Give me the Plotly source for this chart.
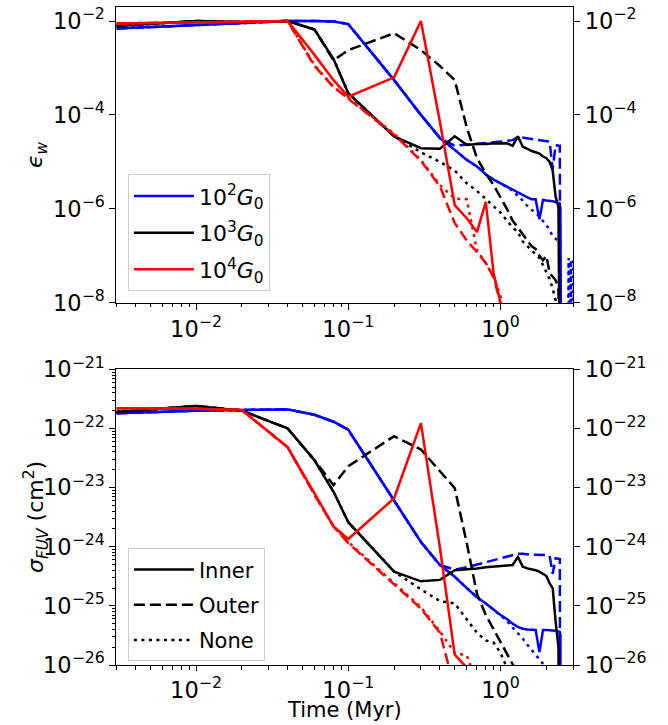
import plotly.graph_objects as go

# ---------------- data ----------------
T_BASE = [0.003, 0.01, 0.02, 0.04, 0.06, 0.08, 0.1, 0.2, 0.3, 0.4, 0.5, 0.6, 0.7, 0.8, 0.9,
          1.0, 1.1, 1.2, 1.3, 1.4, 1.5, 1.6, 1.7, 1.8, 1.9, 2.0, 2.1, 2.2, 2.3, 2.4]

# epsilon_w (top panel)
eps_blue_inner = [6.9e-3, 8.2e-3, 9.3e-3, 1.0e-2, 1.0e-2, 9.8e-3, 8.6e-3, 5.5e-4, 1.0e-4, 3.2e-5,
                  1.8e-5, 1.1e-5, 8.0e-6, 5.4e-6, 4.2e-6, 3.5e-6, 2.95e-6, 2.5e-6, 2.15e-6, 1.9e-6,
                  1.75e-6, 1.6e-6, 1.6e-6, 6.0e-7, 1.55e-6, 1.5e-6, 1.5e-6, 1.45e-6, 1.4e-6, 1.35e-6]
eps_blue_inner_tail_t = [2.45, 2.46, 2.47, 2.48, 2.49, 2.5]
eps_blue_inner_tail = [1.3e-6, 3e-9, 1.1e-6, 3e-9, 9e-7, 1e-10]

eps_blue_outer = [6.9e-3, 8.2e-3, 9.3e-3, 1.0e-2, 1.0e-2, 9.8e-3, 8.6e-3, 5.5e-4, 1.0e-4, 3.2e-5,
                  2.2e-5, 2.3e-5, 2.4e-5, 2.5e-5, 2.6e-5, 2.7e-5, 2.8e-5, 2.9e-5, 3.4e-5, 3.3e-5,
                  3.2e-5, 3.1e-5, 3.0e-5, 2.9e-5, 2.9e-5, 2.8e-5, 2.7e-5, 7.0e-6, 2.3e-5, 2.2e-5]
eps_blue_outer_tail_t = [2.45, 2.47]
eps_blue_outer_tail = [2.2e-5, 1e-10]

eps_blue_none = [6.9e-3, 8.2e-3, 9.3e-3, 1.0e-2, 1.0e-2, 9.8e-3, 8.6e-3, 5.5e-4, 1.0e-4, 3.2e-5,
                 1.8e-5, 1.1e-5, 8.0e-6, 5.4e-6, 4.2e-6, 3.5e-6, 2.9e-6, 2.4e-6, 1.9e-6, 1.5e-6,
                 1.15e-6, 9.5e-7, 8.0e-7, 6.8e-7, 5.5e-7, 4.5e-7, 3.5e-7, 2.6e-7, 2.3e-7, 2.1e-7]
eps_blue_none_tail_t = [2.45, 2.5, 2.75, 2.8, 2.85, 2.9, 2.95, 3.0]
eps_blue_none_tail = [2.0e-7, 1e-11, 1e-11, 9e-8, 1e-11, 8e-8, 1e-11, 9e-8]

eps_black_inner = [7.8e-3, 1.0e-2, 9.5e-3, 1.0e-2, 6.6e-3, 1.55e-3, 2.9e-4, 3.5e-5, 1.95e-5, 1.9e-5,
                   3.5e-5, 2.3e-5, 2.4e-5, 2.4e-5, 2.5e-5, 2.45e-5, 2.5e-5, 2.2e-5, 3.5e-5, 2.1e-5,
                   1.9e-5, 1.7e-5, 1.6e-5, 1.5e-5, 1.3e-5, 1.2e-5, 1.0e-5, 6.5e-6, 1.8e-6, 1.1e-6]
eps_black_inner_tail_t = [2.45]
eps_black_inner_tail = [1e-10]

eps_black_outer = [7.8e-3, 1.0e-2, 9.5e-3, 1.0e-2, 6.6e-3, 1.45e-3, 2.4e-3, 5.5e-3, 2.4e-3, 1.1e-3,
                   5.5e-4, 5.4e-5, 1.2e-5, 5.6e-6, 3.2e-6, 1.8e-6, 1.0e-6, 5.6e-7, 4.0e-7, 2.8e-7,
                   2.2e-7, 1.6e-7, 1.4e-7, 1.0e-7, 8.0e-8, 1.0e-7, 4.3e-8, 3.5e-8, 3.0e-8, 2.0e-8]
eps_black_outer_tail_t = [2.45]
eps_black_outer_tail = [1e-10]

eps_black_none = [7.8e-3, 1.0e-2, 9.5e-3, 1.0e-2, 6.6e-3, 1.55e-3, 2.9e-4, 3.5e-5, 1.6e-5, 1.0e-5,
                  6.5e-6, 3.5e-6, 2.4e-6, 1.6e-6, 1.1e-6, 8.3e-7, 5.6e-7, 4.0e-7, 3.2e-7, 2.0e-7,
                  1.6e-7, 1.3e-7, 1.1e-7, 9.0e-8, 6.3e-8, 4.5e-8, 3.2e-8, 2.0e-8, 1.1e-8, 3.0e-9]

eps_red_inner = [8.9e-3, 9.2e-3, 9.6e-3, 1.0e-2, 1.9e-3, 5.5e-4, 2.45e-4, 6.3e-4, 1.0e-2, 7.0e-5,
                 1.2e-6, 6.3e-7, 3.2e-7, 1.4e-6, 4.3e-8, 1.0e-8, 2.0e-9]
eps_red_outer = [8.9e-3, 9.2e-3, 9.6e-3, 1.0e-2, 1.1e-3, 3.9e-4, 2.2e-4, 3.8e-5, 1.05e-5, 3.0e-6,
                 5.0e-7, 2.1e-7, 1.2e-7, 7.0e-8, 3.5e-8, 1.0e-8, 3.0e-9]
eps_red_none = [8.9e-3, 9.2e-3, 9.6e-3, 1.0e-2, 1.15e-3, 4.0e-4, 2.3e-4, 4.0e-5, 1.1e-5, 3.2e-6,
                1.65e-6, 1.6e-6, 1.3e-7, 7.0e-8, 3.5e-8, 1.35e-8, 3.0e-9]

# sigma_FUV (bottom panel)
sig_blue_inner = [1.8e-22, 2.0e-22, 2.05e-22, 2.1e-22, 1.7e-22, 1.3e-22, 9.5e-23, 6.2e-24, 1.2e-24, 4.9e-25,
                  3.1e-25, 2.0e-25, 1.4e-25, 1.1e-25, 8.5e-26, 7.0e-26, 6.0e-26, 5.0e-26, 4.4e-26, 4.1e-26,
                  4.0e-26, 3.9e-26, 3.9e-26, 1.65e-26, 3.9e-26, 3.9e-26, 3.9e-26, 3.8e-26, 3.8e-26, 3.7e-26]
sig_blue_inner_tail_t = [2.45, 2.46, 2.47, 2.48, 2.49, 2.5]
sig_blue_inner_tail = [3.6e-26, 5e-29, 3.4e-26, 5e-29, 3.0e-26, 1e-30]

sig_blue_outer = [1.8e-22, 2.0e-22, 2.05e-22, 2.1e-22, 1.7e-22, 1.3e-22, 9.5e-23, 6.2e-24, 1.2e-24, 4.9e-25,
                  4.1e-25, 4.5e-25, 5.0e-25, 5.4e-25, 5.9e-25, 6.3e-25, 6.7e-25, 7.1e-25, 7.6e-25, 7.6e-25,
                  7.4e-25, 7.3e-25, 7.3e-25, 7.3e-25, 7.2e-25, 7.2e-25, 7.0e-25, 3.5e-25, 6.4e-25, 6.3e-25]
sig_blue_outer_tail_t = [2.45, 2.47]
sig_blue_outer_tail = [6.2e-25, 1e-30]

sig_blue_none = [1.8e-22, 2.0e-22, 2.05e-22, 2.1e-22, 1.7e-22, 1.3e-22, 9.5e-23, 6.2e-24, 1.2e-24, 4.9e-25,
                 3.1e-25, 2.0e-25, 1.4e-25, 1.1e-25, 8.5e-26, 7.0e-26, 5.6e-26, 4.3e-26, 3.5e-26, 2.8e-26,
                 2.2e-26, 1.8e-26, 1.5e-26, 1.25e-26, 1.05e-26, 8.5e-27, 7.0e-27, 5.5e-27, 5.0e-27, 4.5e-27]

sig_black_inner = [1.9e-22, 2.4e-22, 2.0e-22, 1.0e-22, 2.9e-23, 8.5e-24, 2.6e-24, 3.8e-25, 2.6e-25, 2.75e-25,
                   4.0e-25, 4.1e-25, 4.3e-25, 4.5e-25, 4.6e-25, 4.7e-25, 4.8e-25, 4.9e-25, 6.7e-25, 4.6e-25,
                   4.3e-25, 4.2e-25, 4.0e-25, 3.8e-25, 3.5e-25, 3.2e-25, 2.4e-25, 2.0e-25, 5.4e-26, 2.0e-26]
sig_black_inner_tail_t = [2.45]
sig_black_inner_tail = [1e-29]

sig_black_outer = [1.9e-22, 2.4e-22, 2.0e-22, 1.0e-22, 2.9e-23, 1.1e-23, 2.3e-23, 7.4e-23, 4.4e-23, 1.9e-23,
                   9.8e-24, 1.15e-24, 1.6e-25, 7.0e-26, 4.0e-26, 2.5e-26, 1.6e-26, 1.05e-26, 7.0e-27, 5.0e-27,
                   4.0e-27, 3.0e-27, 2.5e-27, 2.0e-27, 1.6e-27, 1.8e-27, 8.0e-28, 6.0e-28, 5.0e-28, 3.0e-28]

sig_black_none = [1.9e-22, 2.4e-22, 2.0e-22, 1.0e-22, 2.9e-23, 8.5e-24, 2.6e-24, 3.8e-25, 1.9e-25, 1.2e-25,
                  1.1e-25, 6.0e-26, 3.5e-26, 2.6e-26, 2.4e-26, 1.6e-26, 9.0e-27, 6.0e-27, 4.5e-27, 3.5e-27,
                  3.0e-27, 2.5e-27, 2.2e-27, 2.0e-27, 1.6e-27, 1.3e-27, 1.0e-27, 7.0e-28, 4.0e-28, 1.0e-28]

sig_red_inner = [2.2e-22, 2.15e-22, 2.05e-22, 4.8e-23, 8.0e-24, 2.2e-24, 1.35e-24, 6.6e-24, 1.23e-22, 9.5e-25,
                 1.5e-26, 9.0e-27, 5.0e-27, 3.0e-27, 2.0e-27, 1.5e-27, 1.0e-27]
sig_red_outer = [2.2e-22, 2.15e-22, 2.05e-22, 4.8e-23, 7.5e-24, 2.2e-24, 1.15e-24, 2.3e-25, 9.0e-26, 3.5e-26,
                 4.0e-27, 2.0e-27, 1.0e-27, 7.0e-28, 5.0e-28, 3.0e-28, 2.0e-28]
sig_red_none = [2.2e-22, 2.15e-22, 2.05e-22, 4.8e-23, 7.7e-24, 2.2e-24, 1.2e-24, 2.4e-25, 9.5e-26, 3.7e-26,
                1.6e-26, 1.45e-26, 5.0e-27, 3.0e-27, 2.0e-27, 1.3e-27, 8.0e-28]

G0_LABELS = ["10<sup>2</sup><i>G</i><sub>0</sub>", "10<sup>3</sup><i>G</i><sub>0</sub>",
             "10<sup>4</sup><i>G</i><sub>0</sub>"]
STYLE_LABELS = ["Inner", "Outer", "None"]

X_TICKS = [0.01, 0.1, 1.0]
X_TICKTEXT = ["10<sup>−2</sup>", "10<sup>−1</sup>", "10<sup>0</sup>"]
X_MINOR = [m * d for d in (0.001, 0.01, 0.1, 1.0) for m in range(2, 10)]
Y1_TICKS = [1e-8, 1e-6, 1e-4, 1e-2]
Y1_TICKTEXT = ["10<sup>−8</sup>", "10<sup>−6</sup>", "10<sup>−4</sup>", "10<sup>−2</sup>"]
Y2_TICKS = [1e-26, 1e-25, 1e-24, 1e-23, 1e-22, 1e-21]
Y2_TICKTEXT = ["10<sup>−26</sup>", "10<sup>−25</sup>", "10<sup>−24</sup>",
               "10<sup>−23</sup>", "10<sup>−22</sup>", "10<sup>−21</sup>"]
Y2_MINOR = [m * d for d in (1e-26, 1e-25, 1e-24, 1e-23, 1e-22) for m in range(2, 10)]

# ---------------- styling ----------------
COLORS = ["#0000ff", "#000000", "#ff0000"]
DASHES = ["solid", "11px,5px", "3px,4.5px"]
LW = 2.5
FONT = "DejaVu Sans"
TFS = 22.5
LFS = 21

def series(vals, tail_t=None, tail_v=None):
    t = list(T_BASE[:len(vals)])
    v = list(vals)
    if tail_t:
        t = t + list(tail_t)
        v = v + list(tail_v)
    return t, v

top = {
    0: [series(eps_blue_inner, eps_blue_inner_tail_t, eps_blue_inner_tail),
        series(eps_blue_outer, eps_blue_outer_tail_t, eps_blue_outer_tail),
        series(eps_blue_none, eps_blue_none_tail_t, eps_blue_none_tail)],
    1: [series(eps_black_inner, eps_black_inner_tail_t, eps_black_inner_tail),
        series(eps_black_outer, eps_black_outer_tail_t, eps_black_outer_tail),
        series(eps_black_none)],
    2: [series(eps_red_inner), series(eps_red_outer), series(eps_red_none)],
}
bot = {
    0: [series(sig_blue_inner, sig_blue_inner_tail_t, sig_blue_inner_tail),
        series(sig_blue_outer, sig_blue_outer_tail_t, sig_blue_outer_tail),
        series(sig_blue_none)],
    1: [series(sig_black_inner, sig_black_inner_tail_t, sig_black_inner_tail),
        series(sig_black_outer), series(sig_black_none)],
    2: [series(sig_red_inner), series(sig_red_outer), series(sig_red_none)],
}

fig = go.Figure()
for g in range(3):
    # red series live on the twin (right-hand) axes, which share the same range
    ytop = "y3" if g == 2 else "y"
    ybot = "y4" if g == 2 else "y2"
    for s in range(3):
        t, v = top[g][s]
        fig.add_trace(go.Scatter(
            x=t, y=v, mode="lines", xaxis="x", yaxis=ytop,
            line=dict(color=COLORS[g], width=LW, dash=DASHES[s]),
            name=G0_LABELS[g], legend="legend", legendgroup="g%d" % g,
            showlegend=(s == 0)))
    for s in range(3):
        t, v = bot[g][s]
        fig.add_trace(go.Scatter(
            x=t, y=v, mode="lines", xaxis="x2", yaxis=ybot,
            line=dict(color=COLORS[g], width=LW, dash=DASHES[s]),
            name=STYLE_LABELS[s], legend="legend2", legendgroup="s%d" % s,
            showlegend=(g == 1)))

XDOM = [116.4 / 668, 573.2 / 668]
TOPDOM = [1 - 302.7 / 725, 1 - 6.7 / 725]
BOTDOM = [1 - 665.0 / 725, 1 - 369.3 / 725]
XRANGE = [-2.5229, 0.4771]
Y1RANGE = [-8, -1.695]
Y2RANGE = [-26, -21]

tickfont = dict(family=FONT, size=TFS, color="black")
tickstyle = dict(ticks="outside", ticklen=6, tickwidth=1, tickcolor="black")
minor_style = dict(ticks="outside", ticklen=3.5, tickwidth=1, tickcolor="black", showgrid=False)
common_x = dict(type="log", range=XRANGE, tickmode="array", tickvals=X_TICKS, ticktext=X_TICKTEXT,
                showline=True, linecolor="black", linewidth=1, mirror=True,
                showgrid=False, zeroline=False, tickfont=tickfont, automargin=False,
                minor=dict(tickvals=X_MINOR, **minor_style),
                ticks="outside", tickwidth=1, tickcolor="black")
left_y = dict(type="log", tickmode="array", showline=True, linecolor="black",
              linewidth=1, mirror=True, showgrid=False, zeroline=False, tickfont=tickfont,
              automargin=False, **tickstyle)
right_y = dict(type="log", tickmode="array", side="right", showline=False,
               showgrid=False, zeroline=False, tickfont=tickfont, automargin=False, **tickstyle)

legend_common = dict(xanchor="left", yanchor="top", bgcolor="rgba(255,255,255,0.8)",
                     bordercolor="#cccccc", borderwidth=1,
                     traceorder="grouped", tracegroupgap=5, itemwidth=60)

fig.update_layout(
    template="none",
    width=668, height=725, margin=dict(l=0, r=0, t=0, b=0, pad=0),
    paper_bgcolor="white", plot_bgcolor="white",
    font=dict(family=FONT, size=LFS, color="black"),
    xaxis=dict(domain=XDOM, anchor="y", ticklen=6, **common_x),
    yaxis=dict(domain=TOPDOM, anchor="x", range=Y1RANGE,
               tickvals=Y1_TICKS, ticktext=Y1_TICKTEXT, **left_y),
    yaxis3=dict(overlaying="y", anchor="x", range=Y1RANGE,
                tickvals=Y1_TICKS, ticktext=Y1_TICKTEXT, **right_y),
    xaxis2=dict(domain=XDOM, anchor="y2", ticklen=4.5, **common_x),
    yaxis2=dict(domain=BOTDOM, anchor="x2", range=Y2RANGE,
                tickvals=Y2_TICKS, ticktext=Y2_TICKTEXT,
                minor=dict(tickvals=Y2_MINOR, **minor_style), **left_y),
    yaxis4=dict(overlaying="y2", anchor="x2", range=Y2RANGE,
                tickvals=Y2_TICKS, ticktext=Y2_TICKTEXT, **right_y),
    legend=dict(x=127.9 / 668, y=1 - 174.3 / 725, entrywidth=72,
                font=dict(family=FONT, size=22, color="black"), **legend_common),
    legend2=dict(x=127.9 / 668, y=1 - 548.3 / 725, entrywidth=66,
                 font=dict(family=FONT, size=LFS, color="black"), **legend_common),
    showlegend=True,
    annotations=[
        dict(text="<i>ϵ</i><sub><i>w</i></sub>", xref="paper", yref="paper",
             x=36 / 668, y=1 - 155 / 725, textangle=-90, showarrow=False,
             font=dict(family=FONT, size=22, color="black"), xanchor="center", yanchor="middle"),
        dict(text="<i>σ</i><sub><i>FUV</i></sub> (cm<sup>2</sup>)", xref="paper", yref="paper",
             x=36 / 668, y=1 - 517 / 725, textangle=-90, showarrow=False,
             font=dict(family=FONT, size=22, color="black"), xanchor="center", yanchor="middle"),
        dict(text="Time (Myr)", xref="paper", yref="paper",
             x=(XDOM[0] + XDOM[1]) / 2, y=1.5 / 725, showarrow=False,
             font=dict(family=FONT, size=21, color="black"), xanchor="center", yanchor="bottom"),
    ],
)

fig.write_html("out.html")
